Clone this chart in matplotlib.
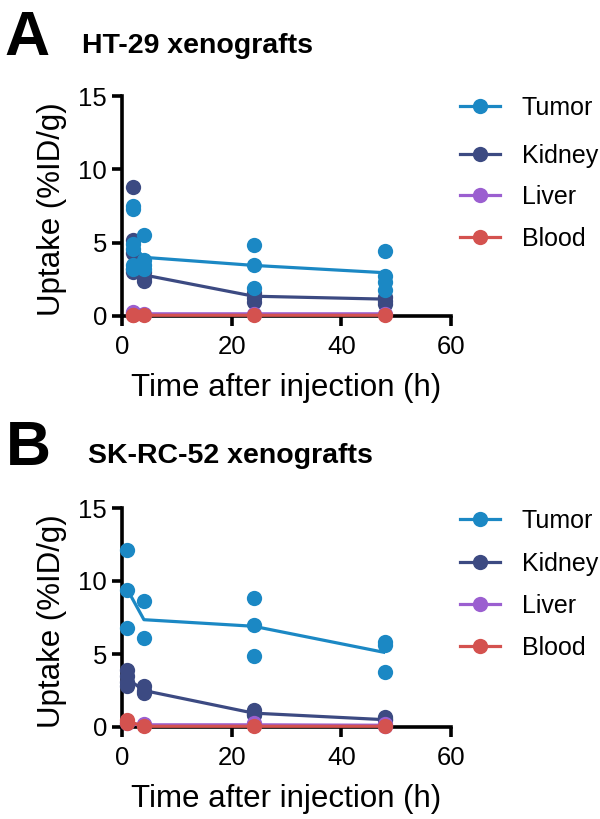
import matplotlib
matplotlib.use("Agg")
import matplotlib.pyplot as plt
from matplotlib.lines import Line2D

plt.rcParams['font.family'] = ['Liberation Sans', 'DejaVu Sans']

series_names = ["Tumor", "Kidney", "Liver", "Blood"]
colors = ["#1B88C4", "#3C4A82", "#9B5FD0", "#D4524F"]

# Panel A: HT-29
times_a = [2, 4, 24, 48]
tumor_a = [[7.5, 7.3, 4.9, 4.6, 3.5, 3.2], [5.5, 3.8, 3.5, 3.2], [4.85, 3.5, 1.9], [4.45, 2.7, 2.3, 1.75]]
kidney_a = [[8.8, 5.2, 4.3, 3.2, 3.0], [3.0, 2.6, 2.4], [1.6, 1.2, 0.95], [1.3, 1.05, 0.85]]
liver_a = [[0.3, 0.2], [0.15], [0.15], [0.15]]
blood_a = [[0.08, 0.05], [0.05], [0.05], [0.05]]
mean_tumor_a = [4.8, 4.0, 3.45, 2.95]
mean_kidney_a = [4.9, 2.8, 1.35, 1.15]
mean_liver_a = [0.2, 0.15, 0.15, 0.15]
mean_blood_a = [0.06, 0.05, 0.05, 0.05]

# Panel B: SK-RC-52
times_b = [1, 4, 24, 48]
tumor_b = [[12.1, 9.4, 6.8], [8.6, 6.1], [8.85, 7.0, 4.85], [5.85, 5.6, 3.8]]
kidney_b = [[3.9, 3.5, 3.1, 2.8], [2.8, 2.5, 2.3], [1.15, 0.9, 0.85], [0.7, 0.55, 0.5]]
liver_b = [[0.25], [0.2, 0.15], [0.25, 0.15], [0.2, 0.1]]
blood_b = [[0.5, 0.3], [0.05], [0.05], [0.05]]
mean_tumor_b = [9.4, 7.35, 6.9, 5.1]
mean_kidney_b = [3.3, 2.5, 0.95, 0.5]
mean_liver_b = [0.2, 0.15, 0.15, 0.12]
mean_blood_b = [0.4, 0.05, 0.05, 0.05]

x_ticks = [0, 20, 40, 60]
y_ticks = [0, 5, 10, 15]

W, H = 600, 819
fig = plt.figure(figsize=(6, 8.19), dpi=100)


def fx(px):
    return px / W


def fy(py):
    return 1 - py / H


def panel(ax_box, times, pts, means, title, letter, title_xy, letter_xy, legend_ys):
    ax = fig.add_axes(ax_box)
    # draw order: kidney, tumor, liver, blood
    order = [1, 0, 2, 3]
    for z, i in enumerate(order):
        c = colors[i]
        ax.plot(times, means[i], color=c, lw=2.3, zorder=5 + z, clip_on=False,
                solid_capstyle='butt')
        xs, ys = [], []
        for t, vals in zip(times, pts[i]):
            for v in vals:
                xs.append(t)
                ys.append(v)
        ax.plot(xs, ys, 'o', color=c, ms=11, mec='none', zorder=5 + z, clip_on=False)
    ax.set_xlim(0, 60)
    ax.set_ylim(0, 15)
    ax.set_xticks(x_ticks)
    ax.set_yticks(y_ticks)
    for s in ['top', 'right']:
        ax.spines[s].set_visible(False)
    for s in ['left', 'bottom']:
        ax.spines[s].set_linewidth(2.6)
        ax.spines[s].set_zorder(2)
    ax.tick_params(width=2.6, length=7.2, labelsize=18.5)
    ax.tick_params(axis='x', pad=6.5)
    ax.tick_params(axis='y', pad=3.5)
    ax.set_xlabel("Time after injection (h)", fontsize=22.5, va='center')
    ax.set_ylabel("Uptake (%ID/g)", fontsize=22.5, va='center')
    ax.xaxis.set_label_coords(0.5, -0.328)
    ax.yaxis.set_label_coords(-0.213, 0.484)
    fig.text(fx(title_xy[0]), fy(title_xy[1]), title, fontsize=20.5, fontweight='bold',
             va='baseline', ha='left')
    fig.text(fx(letter_xy[0]), fy(letter_xy[1]), letter, fontsize=45, fontweight='bold',
             va='baseline', ha='left')
    for i, ly in enumerate(legend_ys):
        fig.add_artist(Line2D([fx(460), fx(500)], [fy(ly), fy(ly)], color=colors[i], lw=2.3))
        fig.add_artist(Line2D([fx(480)], [fy(ly)], marker='o', color=colors[i], ms=11, mec='none'))
        fig.text(fx(522), fy(ly + 9), series_names[i], fontsize=18, va='baseline', ha='left')
    return ax


panel([fx(122), fy(316), fx(451) - fx(122), fy(96) - fy(316)], times_a,
      [tumor_a, kidney_a, liver_a, blood_a],
      [mean_tumor_a, mean_kidney_a, mean_liver_a, mean_blood_a],
      "HT-29 xenografts", "A", (82, 53), (4, 55), [106, 154, 195, 237])

panel([fx(122), fy(727), fx(451) - fx(122), fy(508) - fy(727)], times_b,
      [tumor_b, kidney_b, liver_b, blood_b],
      [mean_tumor_b, mean_kidney_b, mean_liver_b, mean_blood_b],
      "SK-RC-52 xenografts", "B", (88, 463), (6, 465), [519, 562, 604, 646])

fig.savefig("out.png", dpi=100)
